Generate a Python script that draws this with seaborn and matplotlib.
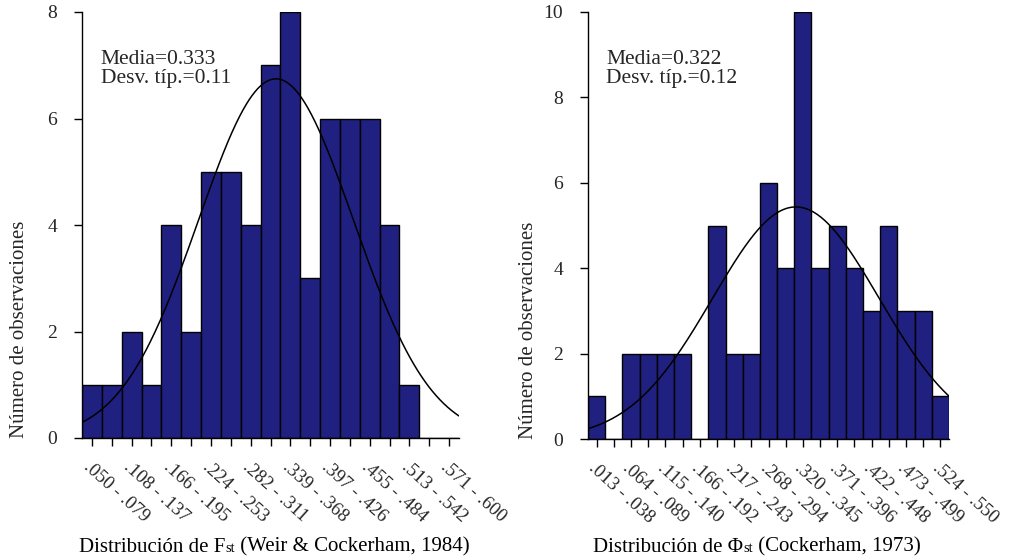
import numpy as np
import pandas as pd
import seaborn as sns
import matplotlib
matplotlib.use("Agg")
import matplotlib.pyplot as plt
from matplotlib.offsetbox import TextArea, HPacker, AnnotationBbox

# ---------------- data ----------------
fst_counts = [1, 1, 2, 1, 4, 2, 5, 5, 4, 7, 8, 3, 6, 6, 6, 4, 1, 0, 0]
fst_range = (0.050, 0.600)
fst_labels = [".050 - .079", ".108 - .137", ".166 - .195", ".224 - .253",
              ".282 - .311", ".339 - .368", ".397 - .426", ".455 - .484",
              ".513 - .542", ".571 - .600"]
fst_mean, fst_sd = 0.333, 0.113        # curve parameters (shown rounded)
fst_stats = "Media=0.333\nDesv. típ.=0.11"

phi_counts = [1, 0, 2, 2, 2, 2, 0, 5, 2, 2, 6, 4, 10, 4, 5, 4, 3, 5, 3, 3, 1]
phi_range = (0.0125, 0.550)
phi_labels = [".013 - .038", ".064 - .089", ".115 - .140", ".166 - .192",
              ".217 - .243", ".268 - .294", ".320 - .345", ".371 - .396",
              ".422 - .448", ".473 - .499", ".524 - .550"]
phi_mean, phi_sd = 0.322, 0.124
phi_stats = "Media=0.322\nDesv. típ.=0.12"

y_max_left, y_max_right = 8, 10
y_ticks_left = [0, 2, 4, 6, 8]
y_ticks_right = [0, 2, 4, 6, 8, 10]

# ---------------- style ----------------
sns.set_style("ticks")
plt.rcParams["font.family"] = ["Liberation Serif", "DejaVu Serif"]
BAR = "#202080"

fig = plt.figure(figsize=(10.1, 5.6), dpi=100)
W, H = 1010, 560


def axes_px(x0, x1, ytop, ybot):
    return fig.add_axes([x0 / W, (H - ybot) / H, (x1 - x0) / W, (ybot - ytop) / H])


ax1 = axes_px(82, 459, 12, 438)
ax2 = axes_px(588, 949, 12, 439)


def draw(ax, counts, rng, labels, mean, sd, ymax, yticks, stats_text):
    n = len(counts)
    edges = np.linspace(rng[0], rng[1], n + 1)
    centers = (edges[:-1] + edges[1:]) / 2
    df = pd.DataFrame({"x": centers, "w": np.asarray(counts, dtype=float)})
    sns.histplot(data=df, x="x", weights="w", bins=[float(e) for e in edges], ax=ax,
                 color=BAR, edgecolor="black", linewidth=1.0, alpha=1.0)
    width = edges[1] - edges[0]
    total = sum(counts)
    xs = np.linspace(rng[0], rng[1], 300)
    ys = total * width * np.exp(-0.5 * ((xs - mean) / sd) ** 2) / (sd * np.sqrt(2 * np.pi))
    ax.plot(xs, ys, color="black", lw=1.1)
    ax.set_xlim(rng[0], rng[1])
    ax.set_ylim(0, ymax)
    ax.set_yticks(yticks)
    ax.set_xticks(centers)
    full = []
    for i in range(n):
        full.append(labels[i // 2] if i % 2 == 0 else "")
    ax.set_xticklabels(full, rotation=-42, ha="left", va="top",
                       rotation_mode="anchor", fontsize=13.5)
    ax.tick_params(axis="x", length=6, width=1, pad=9, color="black")
    ax.tick_params(axis="y", length=6, width=1, labelsize=14, pad=12, color="black")
    for s in ["top", "right"]:
        ax.spines[s].set_visible(False)
    for s in ["left", "bottom"]:
        ax.spines[s].set_color("black")
        ax.spines[s].set_linewidth(1.0)
    ax.set_xlabel("")
    ax.set_ylabel("Número de observaciones", fontsize=15, loc="bottom")
    ax.text(0.05, 0.91, stats_text, transform=ax.transAxes, fontsize=15.5,
            va="top", ha="left", linespacing=0.95)


draw(ax1, fst_counts, fst_range, fst_labels, fst_mean, fst_sd, y_max_left,
     y_ticks_left, fst_stats)
draw(ax2, phi_counts, phi_range, phi_labels, phi_mean, phi_sd, y_max_right,
     y_ticks_right, phi_stats)

ax1.yaxis.set_label_coords((29 - 82) / 377, 0)
ax2.yaxis.set_label_coords((538 - 588) / 361, 0)


def xlabel(parts, xpix, ypix):
    areas = []
    for txt, size in parts:
        areas.append(TextArea(txt, textprops=dict(fontsize=size, color="black",
                                                  family=["Liberation Serif", "DejaVu Serif"])))
    pack = HPacker(children=areas, align="baseline", pad=0, sep=0)
    ab = AnnotationBbox(pack, (xpix / W, 1 - ypix / H), xycoords="figure fraction",
                        box_alignment=(0.5, 0.5), frameon=False, pad=0)
    fig.add_artist(ab)


xlabel([("Distribución de F", 15), ("st", 10.5), ("\u00a0(Weir & Cockerham, 1984)", 15)], 274, 547)
xlabel([("Distribución de Φ", 15), ("st", 10.5), ("\u00a0(Cockerham, 1973)", 15)], 757, 547)

fig.savefig("out.png", dpi=100)
